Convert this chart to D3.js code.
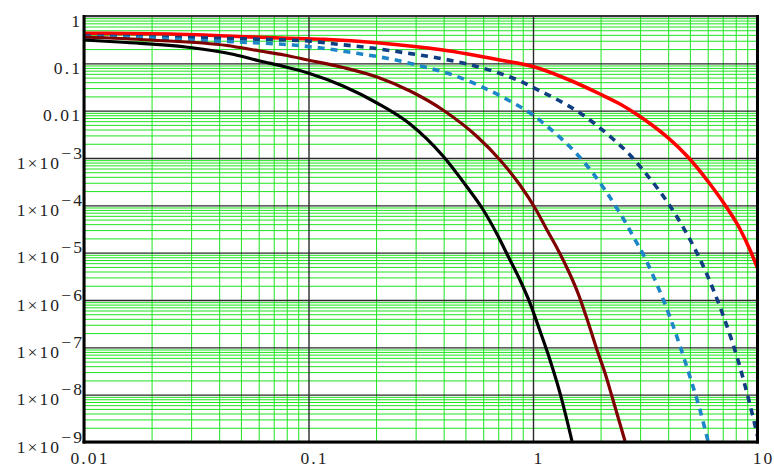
<!DOCTYPE html>
<html>
<head>
<meta charset="utf-8">
<script src="https://cdn.jsdelivr.net/npm/d3@7"></script>
<style>
  html, body { margin: 0; padding: 0; background: #fff; }
  svg { display: block; }
  .tick-label {
    font-family: "Liberation Serif", "Times New Roman", serif;
    font-size: 17.5px;
    fill: #222;
    letter-spacing: 2.1px;
  }
</style>
</head>
<body>
<svg id="chart" width="774" height="468"></svg>
<script>
// ---- axis ticks -------------------------------------------------------
const xTickValues = [0.01, 0.1, 1, 10];
const xTickLabels = ["0.01", "0.1", "1", "10"];

const yTickValues = [1, 0.1, 0.01, 1e-3, 1e-4, 1e-5, 1e-6, 1e-7, 1e-8, 1e-9];
const yTickLabels = ["1", "0.1", "0.01", "1×10", "1×10", "1×10", "1×10", "1×10", "1×10", "1×10"];
const yTickExponents = ["", "", "", "−3", "−4", "−5", "−6", "−7", "−8", "−9"];

// minor grid lines sit at these multiples inside every decade
const minorMultipliers = [2, 3, 4, 5, 6, 7, 8, 9];

// ---- series -----------------------------------------------------------
const redX = [0.01, 0.02434, 0.04335, 0.0747, 0.1172, 0.2019, 0.3972, 0.7129, 1.0, 1.417, 1.988, 2.441, 2.906, 3.389, 3.954, 4.853, 6.142, 7.165, 8.356, 9.26, 10];
const redY = [0.431, 0.4166, 0.378, 0.343, 0.322, 0.273, 0.191, 0.1176, 0.0857, 0.0467, 0.0225, 0.01383, 8.30e-3, 4.98e-3, 2.78e-3, 1.10e-3, 2.82e-4, 1.02e-4, 3.16e-5, 1.14e-5, 4.74e-6];

const navyX = [0.01, 0.01968, 0.04335, 0.0995, 0.1381, 0.1919, 0.2636, 0.366, 0.5082, 0.6913, 0.875, 1.0, 1.2925, 1.6195, 1.928, 2.272, 2.704, 3.09, 3.605, 4.161, 4.659, 5.267, 5.836, 6.336, 7.021, 7.698, 8.186, 8.617, 9.072, 9.55, 10];
const navyY = [0.378, 0.360, 0.3346, 0.2963, 0.2499, 0.2109, 0.1694, 0.1328, 0.0968, 0.064, 0.0423, 0.0309, 0.0168, 8.92e-3, 4.86e-3, 2.52e-3, 1.157e-3, 5.58e-4, 2.21e-4, 8.36e-5, 3.48e-5, 1.19e-5, 4.30e-6, 1.71e-6, 4.82e-7, 1.36e-7, 5.40e-8, 2.25e-8, 8.91e-9, 3.37e-9, 1.34e-9];

const skyX = [0.01, 0.01968, 0.02966, 0.04335, 0.0608, 0.0853, 0.1161, 0.1644, 0.2237, 0.3043, 0.4268, 0.5807, 0.7739, 1.0, 1.253, 1.539, 1.832, 2.093, 2.391, 2.622, 2.788, 3.155, 3.495, 3.873, 4.425, 5.004, 5.545, 6.019];
const skyY = [0.360, 0.343, 0.311, 0.289, 0.269, 0.2439, 0.2078, 0.1629, 0.1277, 0.0922, 0.0595, 0.0332, 0.0168, 8.1e-3, 3.37e-3, 1.338e-3, 5.06e-4, 2.11e-4, 7.96e-5, 3.84e-5, 2.25e-5, 7.71e-6, 2.64e-6, 8.22e-7, 1.43e-7, 2.36e-8, 4.74e-9, 1.05e-9];

const maroonX = [0.01, 0.01968, 0.04335, 0.0608, 0.0778, 0.0995, 0.1425, 0.2019, 0.2833, 0.3972, 0.5632, 0.7129, 0.875, 1.0207, 1.1542, 1.2925, 1.4318, 1.586, 1.758, 1.928, 2.093, 2.272, 2.569];
const maroonY = [0.360, 0.311, 0.238, 0.182, 0.150, 0.1176, 0.0816, 0.0514, 0.0260, 0.01033, 2.84e-3, 9.08e-4, 2.69e-4, 8.78e-5, 3.01e-5, 1.14e-5, 4.3e-6, 1.40e-6, 3.43e-7, 8.8e-8, 2.86e-8, 7.7e-9, 1.05e-9];

const blackX = [0.01, 0.01554, 0.02966, 0.04659, 0.0608, 0.0778, 0.0995, 0.1425, 0.2019, 0.2833, 0.3972, 0.5082, 0.5928, 0.6985, 0.7739, 0.875, 0.9697, 1.0745, 1.1905, 1.3193, 1.4914];
const blackY = [0.311, 0.2754, 0.216, 0.1537, 0.112, 0.0857, 0.0625, 0.0332, 0.01452, 5.23e-3, 1.10e-3, 2.44e-4, 8.78e-5, 2.25e-5, 8.5e-6, 2.64e-6, 8.6e-7, 2.21e-7, 5.4e-8, 1.08e-8, 1.05e-9];

const series = [
  { xs: redX,    ys: redY,    color: "#ff0000", width: 3.6, dash: null },
  { xs: navyX,   ys: navyY,   color: "#0f3f80", width: 3.6, dash: "7,6" },
  { xs: skyX,    ys: skyY,    color: "#1d86c6", width: 3.6, dash: "7,6" },
  { xs: maroonX, ys: maroonY, color: "#800000", width: 3.2, dash: null },
  { xs: blackX,  ys: blackY,  color: "#000000", width: 3.2, dash: null }
];

// ---- layout -----------------------------------------------------------
const plot = { left: 84, right: 757.5, top: 16, bottom: 442 };
const svg = d3.select("#chart");

const x = d3.scaleLog().domain([0.01, 10]).range([plot.left, plot.right]);
const y = d3.scaleLog().domain([1e-9, 1]).range([plot.bottom, plot.top]);

const decadesX = [0.01, 0.1, 1];
const decadesY = [1e-9, 1e-8, 1e-7, 1e-6, 1e-5, 1e-4, 1e-3, 0.01, 0.1];
const minorX = decadesX.flatMap(d => minorMultipliers.map(m => d * m));
const minorY = decadesY.flatMap(d => minorMultipliers.map(m => d * m));

const grid = svg.append("g");

// minor (green) grid
grid.append("g")
  .attr("transform", `translate(0,${plot.bottom})`)
  .call(d3.axisBottom(x).tickValues(minorX).tickSize(-(plot.bottom - plot.top)).tickFormat(""))
  .call(g => g.select(".domain").remove())
  .call(g => g.selectAll("line").attr("stroke", "#1ee41e").attr("stroke-width", 1));

grid.append("g")
  .attr("transform", `translate(${plot.left},0)`)
  .call(d3.axisLeft(y).tickValues(minorY).tickSize(-(plot.right - plot.left)).tickFormat(""))
  .call(g => g.select(".domain").remove())
  .call(g => g.selectAll("line").attr("stroke", "#1ee41e").attr("stroke-width", 1));

// major (dark) grid
grid.append("g")
  .attr("transform", `translate(0,${plot.bottom})`)
  .call(d3.axisBottom(x).tickValues(xTickValues).tickSize(-(plot.bottom - plot.top)).tickFormat(""))
  .call(g => g.select(".domain").remove())
  .call(g => g.selectAll("line").attr("stroke", "#2a2a2a").attr("stroke-width", 1.4));

grid.append("g")
  .attr("transform", `translate(${plot.left},0)`)
  .call(d3.axisLeft(y).tickValues(yTickValues).tickSize(-(plot.right - plot.left)).tickFormat(""))
  .call(g => g.select(".domain").remove())
  .call(g => g.selectAll("line").attr("stroke", "#2a2a2a").attr("stroke-width", 1.4));

// ---- curves -----------------------------------------------------------
svg.append("clipPath").attr("id", "plot-clip")
  .append("rect")
  .attr("x", plot.left).attr("y", plot.top)
  .attr("width", plot.right - plot.left).attr("height", plot.bottom - plot.top);

const line = d3.line()
  .x(d => x(d[0]))
  .y(d => y(d[1]))
  .curve(d3.curveMonotoneX);

const curves = svg.append("g").attr("clip-path", "url(#plot-clip)");
series.forEach(s => {
  const pts = s.xs.map((v, i) => [v, s.ys[i]]);
  curves.append("path")
    .datum(pts)
    .attr("d", line)
    .attr("fill", "none")
    .attr("stroke", s.color)
    .attr("stroke-width", s.width)
    .attr("stroke-linejoin", "round")
    .attr("stroke-dasharray", s.dash);
});

// ---- frame ------------------------------------------------------------
const frame = svg.append("g");
frame.append("line")
  .attr("x1", plot.left).attr("x2", plot.right)
  .attr("y1", plot.top).attr("y2", plot.top)
  .attr("stroke", "#333").attr("stroke-width", 2);
frame.append("line")
  .attr("x1", plot.left).attr("x2", plot.left)
  .attr("y1", plot.top - 1).attr("y2", plot.bottom + 1.5)
  .attr("stroke", "#000").attr("stroke-width", 3);
frame.append("line")
  .attr("x1", plot.right).attr("x2", plot.right)
  .attr("y1", plot.top - 1).attr("y2", plot.bottom + 1.5)
  .attr("stroke", "#000").attr("stroke-width", 3);
frame.append("line")
  .attr("x1", plot.left - 1.5).attr("x2", plot.right + 1.5)
  .attr("y1", plot.bottom).attr("y2", plot.bottom)
  .attr("stroke", "#000").attr("stroke-width", 3);

// ---- tick labels ------------------------------------------------------
svg.append("g").selectAll("text")
  .data(xTickValues)
  .join("text")
  .attr("class", "tick-label")
  .attr("x", d => x(d) + 6)
  .attr("y", 464)
  .attr("text-anchor", "middle")
  .text((d, i) => xTickLabels[i]);

const yLabels = svg.append("g").selectAll("text")
  .data(yTickValues)
  .join("text")
  .attr("class", "tick-label")
  .attr("text-anchor", "end")
  .attr("x", (d, i) => yTickExponents[i] ? 84 : 82)
  .attr("y", d => y(d) + 10.5);

yLabels.append("tspan").text((d, i) => yTickLabels[i]);
yLabels.filter((d, i) => yTickExponents[i] !== "")
  .append("tspan")
  .attr("dy", -10)
  .text(d => yTickExponents[yTickValues.indexOf(d)]);
</script>
</body>
</html>
